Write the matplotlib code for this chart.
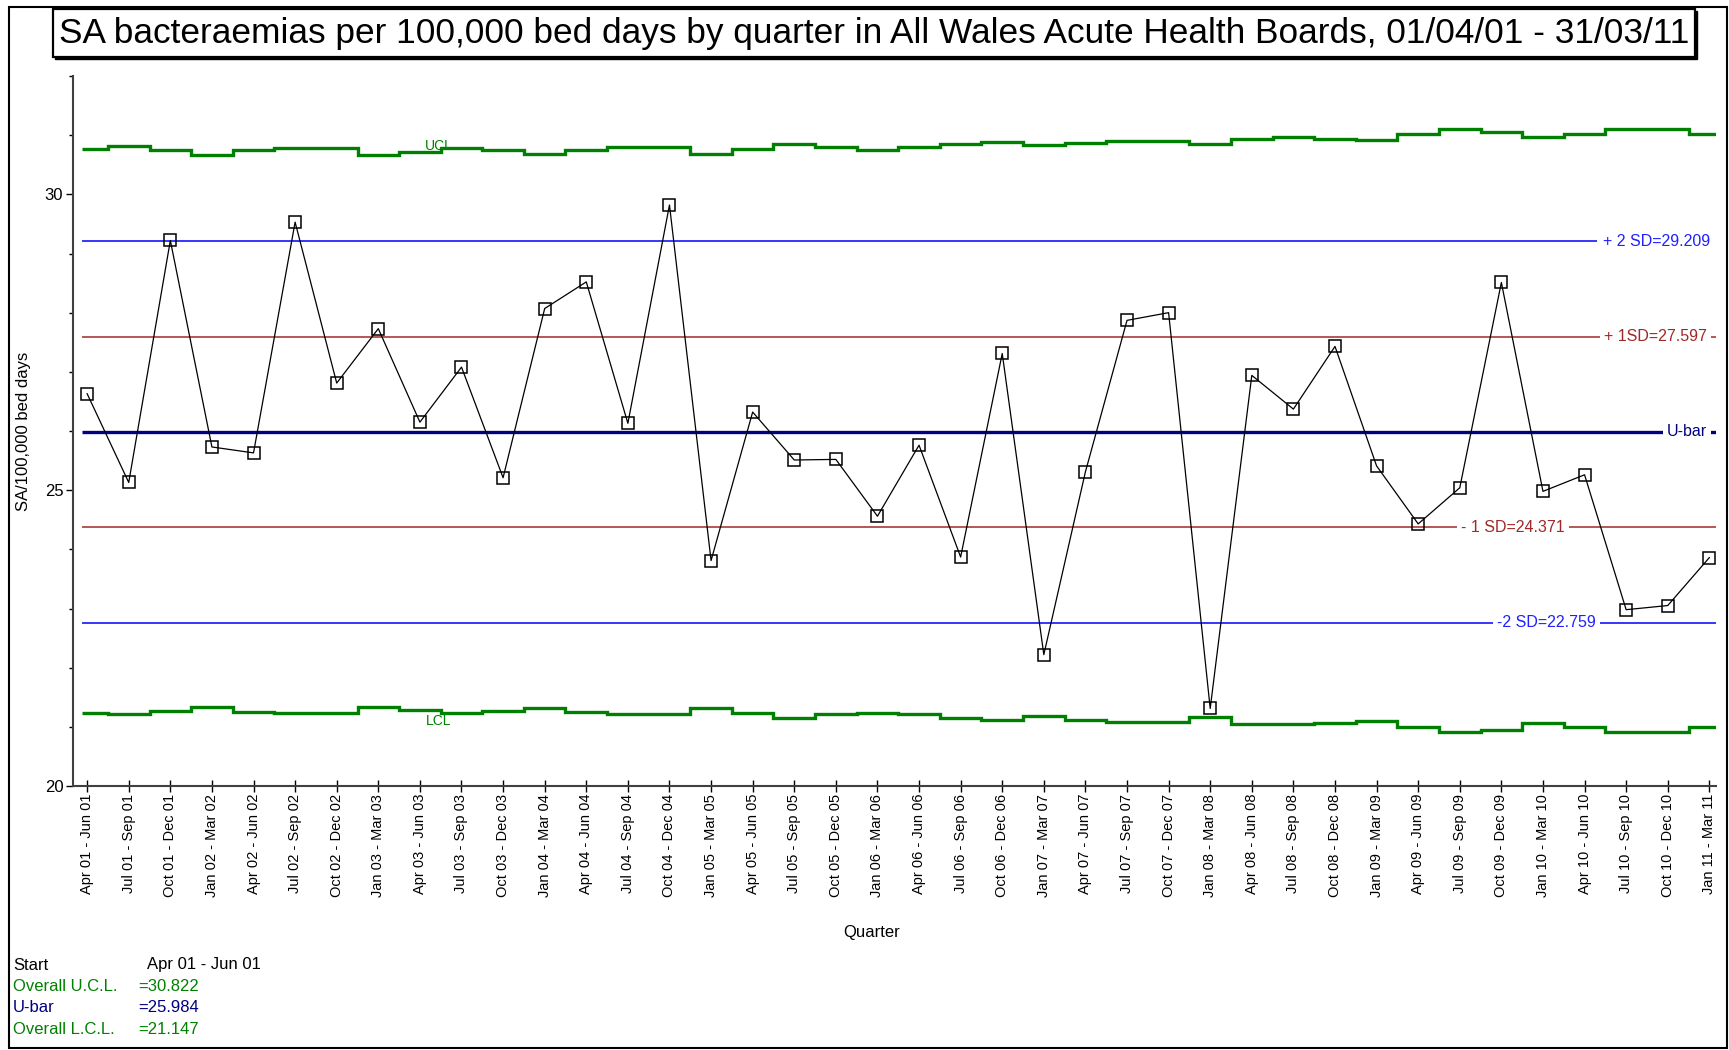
import numpy as np
import matplotlib
matplotlib.use('Agg')
import matplotlib.pyplot as plt
from matplotlib.patches import Rectangle

plt.rcParams['font.family'] = ['Liberation Sans', 'DejaVu Sans']

# ---------------- data ----------------
quarters = [
    "Apr 01 - Jun 01", "Jul 01 - Sep 01", "Oct 01 - Dec 01", "Jan 02 - Mar 02",
    "Apr 02 - Jun 02", "Jul 02 - Sep 02", "Oct 02 - Dec 02", "Jan 03 - Mar 03",
    "Apr 03 - Jun 03", "Jul 03 - Sep 03", "Oct 03 - Dec 03", "Jan 04 - Mar 04",
    "Apr 04 - Jun 04", "Jul 04 - Sep 04", "Oct 04 - Dec 04", "Jan 05 - Mar 05",
    "Apr 05 - Jun 05", "Jul 05 - Sep 05", "Oct 05 - Dec 05", "Jan 06 - Mar 06",
    "Apr 06 - Jun 06", "Jul 06 - Sep 06", "Oct 06 - Dec 06", "Jan 07 - Mar 07",
    "Apr 07 - Jun 07", "Jul 07 - Sep 07", "Oct 07 - Dec 07", "Jan 08 - Mar 08",
    "Apr 08 - Jun 08", "Jul 08 - Sep 08", "Oct 08 - Dec 08", "Jan 09 - Mar 09",
    "Apr 09 - Jun 09", "Jul 09 - Sep 09", "Oct 09 - Dec 09", "Jan 10 - Mar 10",
    "Apr 10 - Jun 10", "Jul 10 - Sep 10", "Oct 10 - Dec 10", "Jan 11 - Mar 11",
]

rate = [
    26.63, 25.13, 29.22, 25.73, 25.63, 29.53, 26.81, 27.73, 26.15, 27.08,
    25.21, 28.07, 28.52, 26.13, 29.82, 23.81, 26.32, 25.51, 25.52, 24.56,
    25.76, 23.87, 27.31, 22.22, 25.31, 27.87, 28.00, 21.31, 26.94, 26.37,
    27.43, 25.41, 24.43, 25.04, 28.51, 24.98, 25.26, 22.98, 23.05, 23.86,
]

ucl = [
    30.77, 30.81, 30.75, 30.66, 30.75, 30.78, 30.78, 30.66, 30.72, 30.78,
    30.75, 30.69, 30.75, 30.80, 30.80, 30.69, 30.77, 30.85, 30.80, 30.75,
    30.80, 30.85, 30.88, 30.83, 30.86, 30.90, 30.90, 30.85, 30.93, 30.97,
    30.93, 30.91, 31.02, 31.10, 31.05, 30.97, 31.02, 31.10, 31.10, 31.02,
]

lcl = [
    21.23, 21.21, 21.26, 21.34, 21.25, 21.23, 21.23, 21.34, 21.29, 21.23,
    21.26, 21.31, 21.25, 21.21, 21.21, 21.31, 21.23, 21.15, 21.21, 21.24,
    21.21, 21.15, 21.12, 21.18, 21.12, 21.09, 21.09, 21.16, 21.04, 21.04,
    21.07, 21.10, 20.99, 20.91, 20.94, 21.06, 20.99, 20.91, 20.91, 20.99,
]

u_bar = 25.984
sd_plus2 = 29.209
sd_plus1 = 27.597
sd_minus1 = 24.371
sd_minus2 = 22.759
overall_ucl = 30.822
overall_lcl = 21.147

# ---------------- figure ----------------
W, H = 1729, 1050
fig = plt.figure(figsize=(W / 100, H / 100), dpi=100)


def fx(px):
    return px / W


def fy(py):
    return 1 - py / H


ax = fig.add_axes([fx(73), fy(786), (1716 - 73) / W, (786 - 76) / H])
x = np.arange(len(quarters))
ax.set_xlim(-0.34, 39.16)
ax.set_ylim(20, 32)

x0, x1 = -0.13, 39.15
edges = np.concatenate([[x0], x[:-1] + 0.5, [x1]])

green = '#008000'
blue = '#0000FF'
red = '#A02828'
navy = '#000080'

ax.stairs(ucl, edges, color=green, lw=2.4, baseline=None, zorder=2)
ax.stairs(lcl, edges, color=green, lw=2.4, baseline=None, zorder=2)

ax.hlines([sd_plus2, sd_minus2], x0, x1, color=blue, lw=1.1, zorder=2)
ax.hlines([sd_plus1, sd_minus1], x0, x1, color=red, lw=1.1, zorder=2)
ax.hlines(u_bar, x0, x1, color=navy, lw=2.4, zorder=2)

lab_kw = dict(va='center', ha='left', fontsize=11.5, zorder=3)
bb = dict(facecolor='white', edgecolor='none', pad=3.0)
ax.text(36.45, sd_plus2, "+ 2 SD=%.3f" % sd_plus2, color='#2020FF',
        bbox=dict(facecolor='white', edgecolor='none', pad=4.5), **lab_kw)
ax.text(36.47, sd_plus1, "+ 1SD=%.3f" % sd_plus1, color=red, bbox=bb, **lab_kw)
ax.text(37.98, u_bar, "U-bar", color=navy, bbox=bb, **lab_kw)
ax.text(33.03, sd_minus1, "- 1 SD=%.3f" % sd_minus1, color=red, bbox=bb, **lab_kw)
ax.text(33.89, sd_minus2, "-2 SD=%.3f" % sd_minus2, color='#2020FF', bbox=bb, **lab_kw)

ax.text(8.45, 30.745, "UCL", color=green, fontsize=10, ha='center', va='baseline', zorder=3)
ax.text(8.45, 21.22, "LCL", color=green, fontsize=10, ha='center', va='top', zorder=3)

ax.plot(x, rate, color='black', lw=0.9, marker='s', markersize=8,
        markerfacecolor='none', markeredgecolor='black', markeredgewidth=1.1, zorder=4)

# axes styling
for s in ['top', 'right']:
    ax.spines[s].set_visible(False)
for s in ['left', 'bottom']:
    ax.spines[s].set_color('#404040')
    ax.spines[s].set_linewidth(1.5)

ax.set_xticks(x)
ax.set_xticklabels(quarters, rotation=90)
ax.tick_params(axis='x', direction='inout', length=9, width=1, pad=1, labelsize=10.5)
ax.set_yticks([20, 25, 30])
ax.set_yticks(np.arange(20, 33), minor=True)
ax.tick_params(axis='y', which='major', direction='out', length=5, width=1, pad=2, labelsize=12)
ax.tick_params(axis='y', which='minor', direction='out', length=3, width=1)

fig.text(fx(24), fy(431), "SA/100,000 bed days", rotation=90, ha='center', va='center', fontsize=12)
fig.text(fx(872), fy(932), "Quarter", ha='center', va='center', fontsize=12)

# title box (with slight shadow on bottom/right)
bx0, bx1, by0, by1 = 53, 1695, 9, 57
fig.add_artist(Rectangle((fx(bx0 + 2), fy(by1 + 2)), (bx1 - bx0) / W, (by1 - by0) / H,
                         transform=fig.transFigure, facecolor='black', edgecolor='black', lw=1, zorder=4))
fig.add_artist(Rectangle((fx(bx0), fy(by1)), (bx1 - bx0) / W, (by1 - by0) / H,
                         transform=fig.transFigure, facecolor='white', edgecolor='black', lw=1.6, zorder=5))
fig.text(fx(874), fy(33), "SA bacteraemias per 100,000 bed days by quarter in All Wales Acute Health Boards, 01/04/01 - 31/03/11",
         ha='center', va='center', fontsize=25.4, zorder=6)

# figure border
fig.add_artist(Rectangle((fx(9), fy(1048)), (1727 - 9) / W, (1048 - 7) / H,
                         transform=fig.transFigure, facecolor='none', edgecolor='black', lw=1.5, zorder=1))

# bottom-left summary
rows = [
    ("Start", "Apr 01 - Jun 01", 'black'),
    ("Overall U.C.L.", "=%.3f" % overall_ucl, green),
    ("U-bar", "=%.3f" % u_bar, navy),
    ("Overall L.C.L.", "=%.3f" % overall_lcl, green),
]
for i, (a, b, c) in enumerate(rows):
    yy = 965 + i * 21.5
    fig.text(fx(13), fy(yy), a, color=c, fontsize=12, ha='left', va='center')
    fig.text(fx(147 if i == 0 else 138), fy(yy), b, color=c, fontsize=12, ha='left', va='center')

fig.savefig('out.png', dpi=100)
